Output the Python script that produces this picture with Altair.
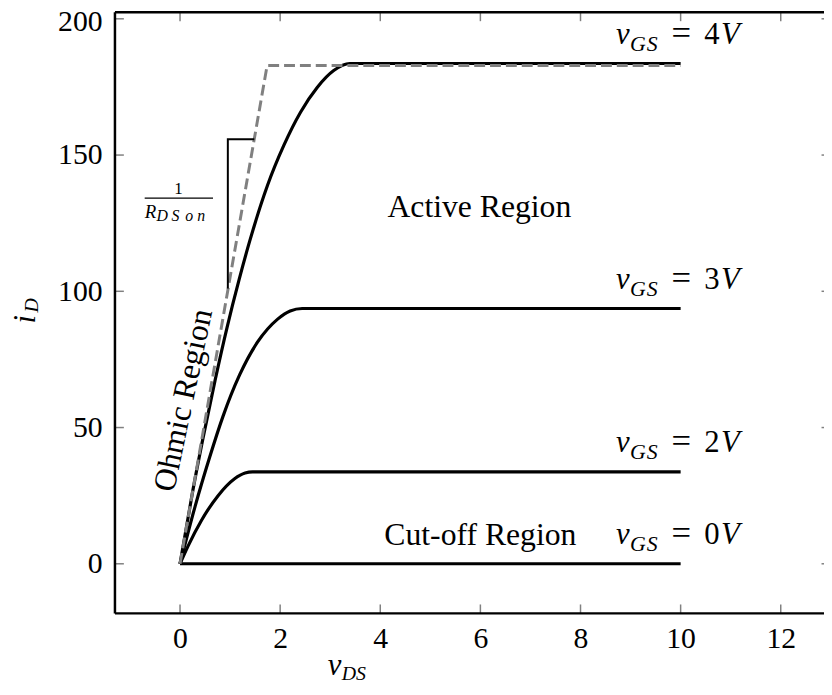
import altair as alt
import pandas as pd

FONT = "Liberation Serif"
GREY = "#808080"

# ---------------- data ----------------
vds_4v = [0, 0.25, 0.46, 0.70, 0.94, 1.18, 1.39, 1.75, 2.08, 2.41, 2.74, 3.07, 3.39, 10]
id_4v = [0, 26.3, 46.2, 67.3, 86.8, 104.3, 118.3, 139.0, 153.8, 165.8, 174.8, 181.0, 183.6, 183.6]
vds_3v = [0, 0.30, 0.59, 0.86, 1.19, 1.55, 1.95, 2.20, 2.44, 10]
id_3v = [0, 21.0, 39.0, 54.2, 69.3, 81.4, 89.8, 92.8, 93.7, 93.7]
vds_2v = [0, 0.16, 0.43, 0.76, 1.09, 1.30, 1.45, 10]
id_2v = [0, 6.5, 16.0, 25.0, 31.2, 33.3, 33.7, 33.7]
vds_0v = [0, 10]
id_0v = [0, 0]

ohmic_vds = [0, 1.74, 10]
ohmic_id = [0, 182.9, 182.9]

slope_vds = [0.955, 0.955, 1.484]
slope_id = [101.0, 155.8, 155.8]

frac_bar_vds = [-0.706, 0.659]
frac_bar_id = [134.2]

x_ticks = [0, 2, 4, 6, 8, 10, 12]
y_ticks = [0, 50, 100, 150, 200]
x_range = [-1.3, 12.864]
y_range = [-18.2, 202.4]

vgs_values = ["0", "2", "3", "4"]
vgs_label_x = [8.71, 8.71, 8.71, 8.71]
vgs_label_y = [7.3, 41.0, 101.0, 190.6]

region_names = ["Active Region", "Cut-off Region"]
region_x = [5.98, 6.0]
region_y = [127.2, 6.9]

ohmic_label = "Ohmic Region"
ohmic_label_x = 0.065
ohmic_label_y = 60.0

frac_x = -0.706   # left edge of the fraction's denominator
frac_one_x = 0.0
frac_one_y = 135.6
frac_den_y = 126.9

# ---------------- layout ----------------
PLOT_W = 716
PLOT_H = 607
TICK = 9

xs = alt.Scale(domain=x_range, nice=False, zero=False)
ys = alt.Scale(domain=y_range, nice=False, zero=False)


def X(field, axis=None):
    return alt.X(f"{field}:Q", scale=xs, axis=axis)


def Y(field, axis=None):
    return alt.Y(f"{field}:Q", scale=ys, axis=axis)


axis_bottom = alt.Axis(orient="bottom", values=x_ticks, labelFont=FONT, labelFontSize=30,
                       labelColor="black", labelPadding=10, labelFlush=False,
                       labelOverlap=False, format="d", ticks=False, domain=False,
                       grid=False, title=None)
axis_left = alt.Axis(orient="left", values=y_ticks, labelFont=FONT, labelFontSize=30,
                     labelColor="black", labelPadding=13, labelFlush=False,
                     labelOverlap=False, format="d", ticks=False, domain=False,
                     grid=False, title=None,
                     labelOffset={"condition": {"test": "datum.value == 200", "value": 3},
                                  "value": 0})

rows = []
for name, vx, vy in [("4V", vds_4v, id_4v), ("3V", vds_3v, id_3v),
                     ("2V", vds_2v, id_2v), ("0V", vds_0v, id_0v)]:
    for k, (a, b) in enumerate(zip(vx, vy)):
        rows.append({"series": name, "vds": a, "id": b, "k": k})
curve_df = pd.DataFrame(rows)

curves = alt.Chart(curve_df).mark_line(
    color="black", strokeWidth=3.2, interpolate="monotone"
).encode(
    x=X("vds", axis_bottom), y=Y("id", axis_left),
    detail="series:N", order="k:Q"
)

ohmic_df = pd.DataFrame({"vds": ohmic_vds, "id": ohmic_id, "k": range(len(ohmic_vds))})
dashed = alt.Chart(ohmic_df).mark_line(
    color=GREY, strokeWidth=3, strokeDash=[11, 5]
).encode(x=X("vds"), y=Y("id"), order="k:Q")

slope_df = pd.DataFrame({"vds": slope_vds, "id": slope_id, "k": range(len(slope_vds))})
bracket = alt.Chart(slope_df).mark_line(color="black", strokeWidth=2).encode(
    x=X("vds"), y=Y("id"), order="k:Q")

bar_df = pd.DataFrame({"x1": [frac_bar_vds[0]], "x2": [frac_bar_vds[1]], "y": frac_bar_id})
frac_bar = alt.Chart(bar_df).mark_rule(color="black", strokeWidth=1.2).encode(
    x=X("x1"), x2="x2:Q", y=Y("y"))

# ---- inward ticks on all four sides (right side is mostly beyond the window) ----
xt_df = pd.DataFrame({"t": x_ticks})
yt_df = pd.DataFrame({"t": y_ticks})
tick_kw = dict(color=GREY, strokeWidth=1.5)
ticks_bottom = alt.Chart(xt_df).mark_rule(**tick_kw).encode(
    x=X("t"), y=alt.value(PLOT_H), y2=alt.value(PLOT_H - TICK))
ticks_top = alt.Chart(xt_df).mark_rule(**tick_kw).encode(
    x=X("t"), y=alt.value(0), y2=alt.value(TICK))
ticks_left = alt.Chart(yt_df).mark_rule(**tick_kw).encode(
    y=Y("t"), x=alt.value(0), x2=alt.value(TICK))
ticks_right = alt.Chart(yt_df).mark_rule(**tick_kw).encode(
    y=Y("t"), x=alt.value(PLOT_W), x2=alt.value(PLOT_W - 2.5))

# ---- frame: left, bottom, top spines (right spine lies outside the window) ----
one = pd.DataFrame({"a": [0]})
spine_kw = dict(color="black", strokeWidth=2.5)
spine_left = alt.Chart(one).mark_rule(**spine_kw).encode(
    x=alt.value(0), y=alt.value(0), y2=alt.value(PLOT_H))
spine_bottom = alt.Chart(one).mark_rule(**spine_kw).encode(
    x=alt.value(0), x2=alt.value(PLOT_W + 2), y=alt.value(PLOT_H))
spine_top = alt.Chart(one).mark_rule(**spine_kw).encode(
    x=alt.value(0), x2=alt.value(PLOT_W + 2), y=alt.value(0))


def text_layer(df, x, y, text=None, field=None, size=31, style="normal", dx=0, dy=0,
               align="left", baseline="alphabetic", angle=None):
    kw = dict(font=FONT, fontSize=size, fontStyle=style, color="black",
              align=align, baseline=baseline, dx=dx, dy=dy)
    if angle is not None:
        kw["angle"] = angle
    if text is not None:
        kw["text"] = text
    enc = dict(x=X(x), y=Y(y))
    if field is not None:
        enc["text"] = alt.Text(f"{field}:N")
    return alt.Chart(df).mark_text(**kw).encode(**enc)


def value_text(text, px, py, size=31, style="normal", align="left",
               baseline="alphabetic", angle=None):
    kw = dict(font=FONT, fontSize=size, fontStyle=style, color="black",
              align=align, baseline=baseline, text=text)
    if angle is not None:
        kw["angle"] = angle
    return alt.Chart(one).mark_text(**kw).encode(x=alt.value(px), y=alt.value(py))


vgs_df = pd.DataFrame({"x": vgs_label_x, "y": vgs_label_y, "val": vgs_values})
vgs_layers = [
    text_layer(vgs_df, "x", "y", text="v", size=31, style="italic"),
    text_layer(vgs_df, "x", "y", text="G", size=22, style="italic", dx=14, dy=7),
    text_layer(vgs_df, "x", "y", text="S", size=22, style="italic", dx=31, dy=7),
    text_layer(vgs_df, "x", "y", text="=", size=35, dx=56),
    text_layer(vgs_df, "x", "y", field="val", size=31, dx=89),
    text_layer(vgs_df, "x", "y", text="V", size=31, style="italic", dx=106),
]

region_df = pd.DataFrame({"x": region_x, "y": region_y, "t": region_names})
regions = text_layer(region_df, "x", "y", field="t", size=32, align="center")

ohm_df = pd.DataFrame({"x": [ohmic_label_x], "y": [ohmic_label_y], "t": [ohmic_label]})
ohm_text = text_layer(ohm_df, "x", "y", field="t", size=32, align="center",
                      baseline="middle", angle=282)

frac_df = pd.DataFrame({"x": [frac_one_x], "y": [frac_one_y]})
den_df = pd.DataFrame({"x": [frac_x], "y": [frac_den_y]})
frac_layers = [
    text_layer(frac_df, "x", "y", text="1", size=17, align="center", dx=-1.5),
    text_layer(den_df, "x", "y", text="R", size=19, style="italic"),
    text_layer(den_df, "x", "y", text="D", size=16, style="italic", dx=12, dy=3),
    text_layer(den_df, "x", "y", text="S", size=16, style="italic", dx=27, dy=3),
    text_layer(den_df, "x", "y", text="o", size=16, style="italic", dx=41, dy=3),
    text_layer(den_df, "x", "y", text="n", size=16, style="italic", dx=53, dy=3),
]

titles = [
    value_text("v", 215, 669, size=31, style="italic"),
    value_text("DS", 229, 674, size=20, style="italic"),
    value_text("i", -81, 310, size=31, style="italic", align="center", angle=270),
    value_text("D", -78, 296, size=20, style="italic", align="center", angle=270),
]

chart = alt.layer(
    curves, dashed, bracket, frac_bar,
    ticks_bottom, ticks_top, ticks_left, ticks_right,
    spine_left, spine_bottom, spine_top,
    regions, ohm_text, *vgs_layers, *frac_layers, *titles
).resolve_axis(
    x="independent", y="independent"
).properties(
    width=PLOT_W, height=PLOT_H,
    autosize=alt.AutoSizeParams(type="none"),
    padding={"left": 108, "top": 1, "right": 0, "bottom": 68},
    background="white",
).configure_view(stroke=None)

chart.save("out.html", embed_options={"renderer": "svg", "actions": False})
